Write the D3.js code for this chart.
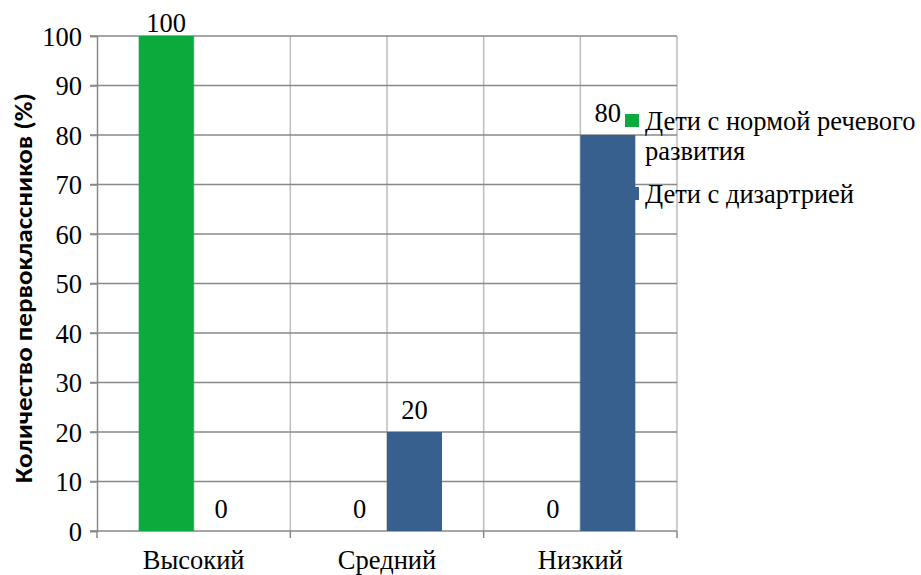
<!DOCTYPE html>
<html>
<head>
<meta charset="utf-8">
<script src="https://cdn.jsdelivr.net/npm/d3@7"></script>
<style>
  html, body { margin: 0; padding: 0; background: #fff; }
  svg { display: block; }
</style>
</head>
<body>
<svg id="chart" width="921" height="575"></svg>
<script>
// Levels of speech development among first-graders
const categories = ["Высокий", "Средний", "Низкий"];
const seriesNames = ["Дети с нормой речевого развития", "Дети с дизартрией"];
const normValues = [100, 0, 0];
const dysarthriaValues = [0, 20, 80];
const yTicks = [0, 10, 20, 30, 40, 50, 60, 70, 80, 90, 100];
const yTitle = "Количество первоклассников (%)";
const colors = ["#0ca93c", "#37608f"];

const SERIF = "Liberation Serif";
const FS = 26.5;

const seriesValues = [normValues, dysarthriaValues];
const rows = categories.map((c, i) => ({
  category: c,
  values: seriesNames.map((s, j) => ({ series: s, idx: j, value: seriesValues[j][i] }))
}));

const svg = d3.select("#chart");
const plot = { left: 97, right: 677, top: 36, bottom: 531 };

const x0 = d3.scaleBand().domain(categories).range([plot.left, plot.right]).padding(0);
const x1 = d3.scaleBand().domain(seriesNames).range([0, x0.bandwidth()])
  .paddingInner(0).paddingOuter(0.758);
const y = d3.scaleLinear().domain([0, 100]).range([plot.bottom, plot.top]);

// vertical gridlines at every category edge and centre
const vLines = [];
categories.forEach(c => { vLines.push(x0(c)); vLines.push(x0(c) + x0.bandwidth() / 2); });
vLines.push(plot.right);
svg.append("g").selectAll("line").data(vLines.slice(1)).join("line")
  .attr("x1", d => d).attr("x2", d => d)
  .attr("y1", plot.top).attr("y2", plot.bottom)
  .attr("stroke", "#bdbdbd").attr("stroke-width", 1.5);

// horizontal gridlines
svg.append("g").selectAll("line").data(yTicks.filter(t => t > 0)).join("line")
  .attr("x1", plot.left - 7).attr("x2", plot.right)
  .attr("y1", d => y(d)).attr("y2", d => y(d))
  .attr("stroke", "#898989").attr("stroke-width", 1.5);

// y axis
const yAxis = svg.append("g")
  .attr("transform", `translate(${plot.left},0)`)
  .call(d3.axisLeft(y).tickValues(yTicks).tickSize(7).tickPadding(8).tickFormat(d3.format("d")))
  .attr("font-family", SERIF).attr("font-size", FS);
yAxis.select(".domain").attr("stroke", "#898989").attr("stroke-width", 1.5);
yAxis.selectAll(".tick line").attr("stroke", "#898989").attr("stroke-width", 1.5);
yAxis.selectAll(".tick text").attr("fill", "#000").attr("dy", "0.34em");

// x axis
const xAxis = svg.append("g").attr("transform", `translate(0,${plot.bottom})`);
xAxis.append("line").attr("x1", plot.left - 7).attr("x2", plot.right)
  .attr("stroke", "#898989").attr("stroke-width", 1.5);
const xEdges = categories.map(c => x0(c)).concat([plot.right]);
xAxis.selectAll("line.tk").data(xEdges).join("line").attr("class", "tk")
  .attr("x1", d => d).attr("x2", d => d).attr("y1", 0).attr("y2", 7)
  .attr("stroke", "#898989").attr("stroke-width", 1.5);
xAxis.selectAll("text").data(categories).join("text")
  .attr("x", d => x0(d) + x0.bandwidth() / 2).attr("y", 38)
  .attr("text-anchor", "middle").attr("font-family", SERIF).attr("font-size", FS)
  .text(d => d);

// bars
const groups = svg.append("g").selectAll("g").data(rows).join("g")
  .attr("transform", d => `translate(${x0(d.category)},0)`);
groups.selectAll("rect").data(d => d.values).join("rect")
  .attr("x", d => x1(d.series)).attr("width", x1.bandwidth())
  .attr("y", d => y(d.value)).attr("height", d => y(0) - y(d.value))
  .attr("fill", d => colors[d.idx]);

// value labels
groups.selectAll("text").data(d => d.values).join("text")
  .attr("x", d => x1(d.series) + x1.bandwidth() / 2)
  .attr("y", d => Math.max(y(d.value) - 13, plot.top - 4))
  .attr("text-anchor", "middle").attr("font-family", SERIF).attr("font-size", FS)
  .text(d => d.value);

// y axis title
svg.append("text")
  .attr("transform", "translate(32,288) rotate(-90)")
  .attr("text-anchor", "middle")
  .attr("font-family", "Carlito").attr("font-weight", "bold").attr("font-size", 25)
  .attr("textLength", 390).attr("lengthAdjust", "spacingAndGlyphs")
  .text(yTitle);

// legend
const legend = svg.append("g");
const legendItems = [
  { lines: ["Дети с нормой речевого", "развития"], y: 130, color: colors[0] },
  { lines: ["Дети с дизартрией"], y: 203, color: colors[1] }
];
legendItems.forEach(item => {
  legend.append("rect").attr("x", 625).attr("y", item.y - 16).attr("width", 14).attr("height", 13)
    .attr("fill", item.color);
  item.lines.forEach((t, k) => {
    legend.append("text").attr("x", 645).attr("y", item.y + k * 30)
      .attr("font-family", SERIF).attr("font-size", FS).text(t);
  });
});
</script>
</body>
</html>
